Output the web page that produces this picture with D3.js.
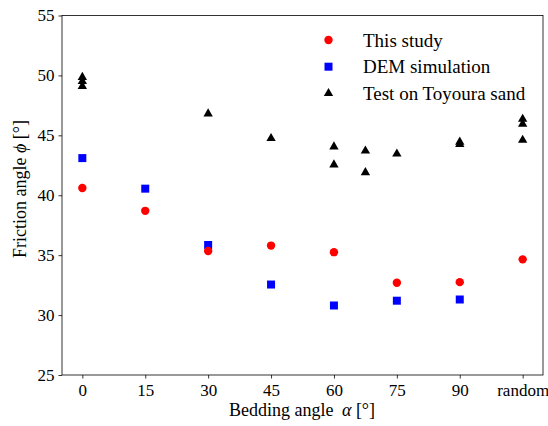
<!DOCTYPE html>
<html lang="en">
<head>
    <meta charset="UTF-8">
    <title>Friction angle</title>
    <script src="https://cdn.jsdelivr.net/npm/d3@7/dist/d3.min.js"></script>
    <style>
        body { margin: 0; background: #fff; }
        text { font-family: "Liberation Serif", "Times New Roman", serif; fill: #000; }
    </style>
</head>
<body>
    <svg width="548" height="426"></svg>
</body>
</html>
<script>

    // data
    // "random" is put at 105 on the x axis
    var studyX = [0, 15, 30, 45, 60, 75, 90, 105];
    var studyY = [40.6, 38.7, 35.35, 35.8, 35.25, 32.7, 32.75, 34.65];

    var demX = [0, 15, 30, 45, 60, 75, 90];
    var demY = [43.1, 40.55, 35.85, 32.55, 30.8, 31.2, 31.3];

    var toyX = [0, 0, 0, 30, 45, 60, 60, 67.5, 67.5, 75, 90, 90, 105, 105, 105];
    var toyY = [49.85, 49.5, 49.1, 46.8, 44.75, 44.05, 42.55, 43.7, 41.9, 43.45, 44.45, 44.25, 46.35, 45.95, 44.6];

    var xTicks = [0, 15, 30, 45, 60, 75, 90, 105];
    var xTickLabels = ['0', '15', '30', '45', '60', '75', '90', 'random'];
    var yTicks = [25, 30, 35, 40, 45, 50, 55];

    var svg = d3.select('svg');

    // plot box (window.top is taken, so p-prefixed names)
    var pLeft = 62, pRight = 543, pTop = 15.5, pBottom = 375;

    var x = d3.scaleLinear().domain([-4.85, 109.85]).range([pLeft, pRight]);
    var y = d3.scaleLinear().domain([25, 55]).range([pBottom, pTop]);

    // axes
    svg.append('g')
        .attr('transform', 'translate(0,' + pBottom + ')')
        .call(d3.axisBottom(x).tickValues(xTicks).tickSize(3.5).tickPadding(5)
            .tickFormat(function(d, i){ return xTickLabels[i] }))
        .call(function(g){
            g.select('.domain').remove();
            g.selectAll('text').style('font-size', '17px');
        });

    svg.append('g')
        .attr('transform', 'translate(' + pLeft + ',0)')
        .call(d3.axisLeft(y).tickValues(yTicks).tickSize(3.5).tickPadding(4))
        .call(function(g){
            g.select('.domain').remove();
            g.selectAll('text').style('font-size', '17px');
        });

    svg.selectAll('.tick line').attr('stroke', '#000').attr('stroke-width', 0.8);

    // frame
    svg.append('rect')
        .attr('x', pLeft).attr('y', pTop)
        .attr('width', pRight - pLeft).attr('height', pBottom - pTop)
        .attr('fill', 'none')
        .attr('stroke', '#000')
        .attr('stroke-width', 0.8);

    // points
    var tri = d3.symbol().type(d3.symbolTriangle).size(38);
    var sq = d3.symbol().type(d3.symbolSquare).size(64);

    svg.append('g').selectAll('path')
        .data(toyX)
        .enter().append('path')
        .attr('d', tri)
        .attr('transform', function(d, i){
            return 'translate(' + x(d) + ',' + y(toyY[i]) + ')'
        })
        .attr('fill', 'black');

    svg.append('g').selectAll('path')
        .data(demX)
        .enter().append('path')
        .attr('d', sq)
        .attr('transform', function(d, i){
            return 'translate(' + x(d) + ',' + y(demY[i]) + ')'
        })
        .attr('fill', 'blue');

    svg.append('g').selectAll('circle')
        .data(studyX)
        .enter().append('circle')
        .attr('cx', function(d){ return x(d) })
        .attr('cy', function(d, i){ return y(studyY[i]) })
        .attr('r', 4.2)
        .attr('fill', 'red');

    // legend
    var legend = [
        {name: 'This study', kind: 'circle', color: 'red'},
        {name: 'DEM simulation', kind: 'square', color: 'blue'},
        {name: 'Test on Toyoura sand', kind: 'triangle', color: 'black'}
    ];

    var lg = svg.append('g');
    legend.forEach(function(d, i){
        var ly = 40 + i * 26.7;
        if (d.kind == 'circle') {
            lg.append('circle').attr('cx', 328.5).attr('cy', ly).attr('r', 4.2).attr('fill', d.color);
        } else if (d.kind == 'square') {
            lg.append('path').attr('d', sq).attr('transform', 'translate(328.5,' + ly + ')').attr('fill', d.color);
        } else {
            lg.append('path').attr('d', tri).attr('transform', 'translate(328.5,' + ly + ')').attr('fill', d.color);
        }
        lg.append('text')
            .attr('x', 363)
            .attr('y', ly)
            .attr('dy', '0.35em')
            .style('font-size', '19px')
            .text(d.name);
    });

    // axis titles
    var xt = svg.append('text')
        .attr('x', 302)
        .attr('y', 416)
        .attr('text-anchor', 'middle')
        .style('font-size', '18px');
    xt.append('tspan').text('Bedding angle ');
    xt.append('tspan').attr('dx', 4).style('font-style', 'italic').text('α');
    xt.append('tspan').text(' [°]');

    var yt = svg.append('text')
        .attr('transform', 'translate(26,189) rotate(-90)')
        .attr('text-anchor', 'middle')
        .style('font-size', '18px');
    yt.append('tspan').text('Friction angle ');
    yt.append('tspan').style('font-style', 'italic').text('ϕ');
    yt.append('tspan').text(' [°]');

</script>
